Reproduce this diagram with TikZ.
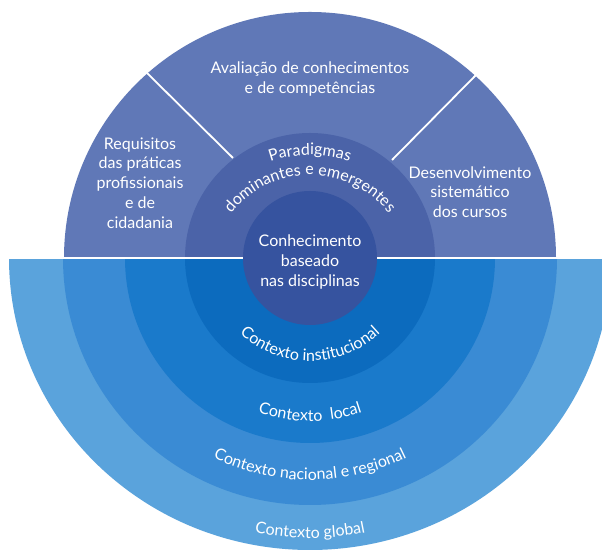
\documentclass[tikz,border=0pt]{standalone}
\usepackage{fontspec}
\newfontfamily\latofam{Lato}
\usetikzlibrary{decorations.text}
\definecolor{cGlobal}{HTML}{5AA3DC}
\definecolor{cNac}{HTML}{3A8BD4}
\definecolor{cLocal}{HTML}{1A7ACB}
\definecolor{cInst}{HTML}{0C6BBE}
\definecolor{cUpper}{HTML}{6078B7}
\definecolor{cPar}{HTML}{4B63A8}
\definecolor{cCore}{HTML}{36539F}
\newcommand{\myfontA}{\latofam\fontsize{16}{19.8}\selectfont}
\begin{document}
\begin{tikzpicture}[x=1pt,y=1pt,
  lbl/.style={text=white, font=\myfontA, align=center, inner sep=0pt},
  sepline/.style={draw=white, line width=1.8pt},
  arctext/.style={decorate, decoration={text along path, text align=center, text color=white, text={|\myfontA|#1}}}
]
\useasboundingbox (0,0) rectangle (602,553);
\clip (0,0) rectangle (602,553);
\fill[white] (0,0) rectangle (602,553);
\coordinate (C) at (310,295);
\coordinate (D) at (310,278);
% lower half rings
\fill[cGlobal] ([shift={(180:301)}]C) arc[start angle=180,end angle=360,x radius=301,y radius=292] -- cycle;
\fill[cNac] ([shift={(180:247)}]C) arc[start angle=180,end angle=360,radius=247] -- cycle;
\fill[cLocal] ([shift={(180:185)}]C) arc[start angle=180,end angle=360,radius=185] -- cycle;
\fill[cInst] ([shift={(180:125)}]C) arc[start angle=180,end angle=360,radius=125] -- cycle;
% upper half
\fill[cUpper] ([shift={(0:246)}]C) arc[start angle=0,end angle=180,radius=246] -- cycle;
\fill[cPar] ([shift={(0:125)}]C) arc[start angle=0,end angle=180,radius=125] -- cycle;
% separators
\coordinate (hl) at (0,295);
\coordinate (hr) at (602,295);
\draw[sepline, line width=1.5pt] (hl) -- (hr);
\coordinate (la) at (147,480);
\coordinate (lb) at (233,395);
\coordinate (ra) at (476,478);
\coordinate (rb) at (392,393);
\draw[sepline] (la) -- (lb);
\draw[sepline] (ra) -- (rb);
% core
\fill[cCore] (C) circle[radius=67];
% labels
\node[lbl] (aval) at (310,474) {Avaliação de conhecimentos\\e de competências};
\node[lbl] (req) at (140,370) {Requisitos\\das práticas\\profissionais\\e de\\cidadania};
\node[lbl] (des) at (470,361) {Desenvolvimento\\sistemático\\dos cursos};
\node[lbl] (con) at (310,291) {Conhecimento\\baseado\\nas disciplinas};
% curved labels
\path[arctext={Paradigmas}] ([shift={(150:120)}]D) arc[start angle=150,end angle=30,radius=120];
\path[arctext={dominantes e emergentes}] ([shift={(175:100)}]D) arc[start angle=175,end angle=5,radius=100];
\path[arctext={Contexto institucional}] ([shift={(190:103)}]C) arc[start angle=190,end angle=350,radius=103];
\path[arctext={Contexto {\ }local}] ([shift={(200:163)}]C) arc[start angle=200,end angle=340,radius=163];
\path[arctext={Contexto nacional e regional}] ([shift={(200:222)}]C) arc[start angle=200,end angle=340,radius=222];
\path[arctext={Contexto global}] ([shift={(210:280)}]C) arc[start angle=210,end angle=330,radius=280];
\end{tikzpicture}
\end{document}
